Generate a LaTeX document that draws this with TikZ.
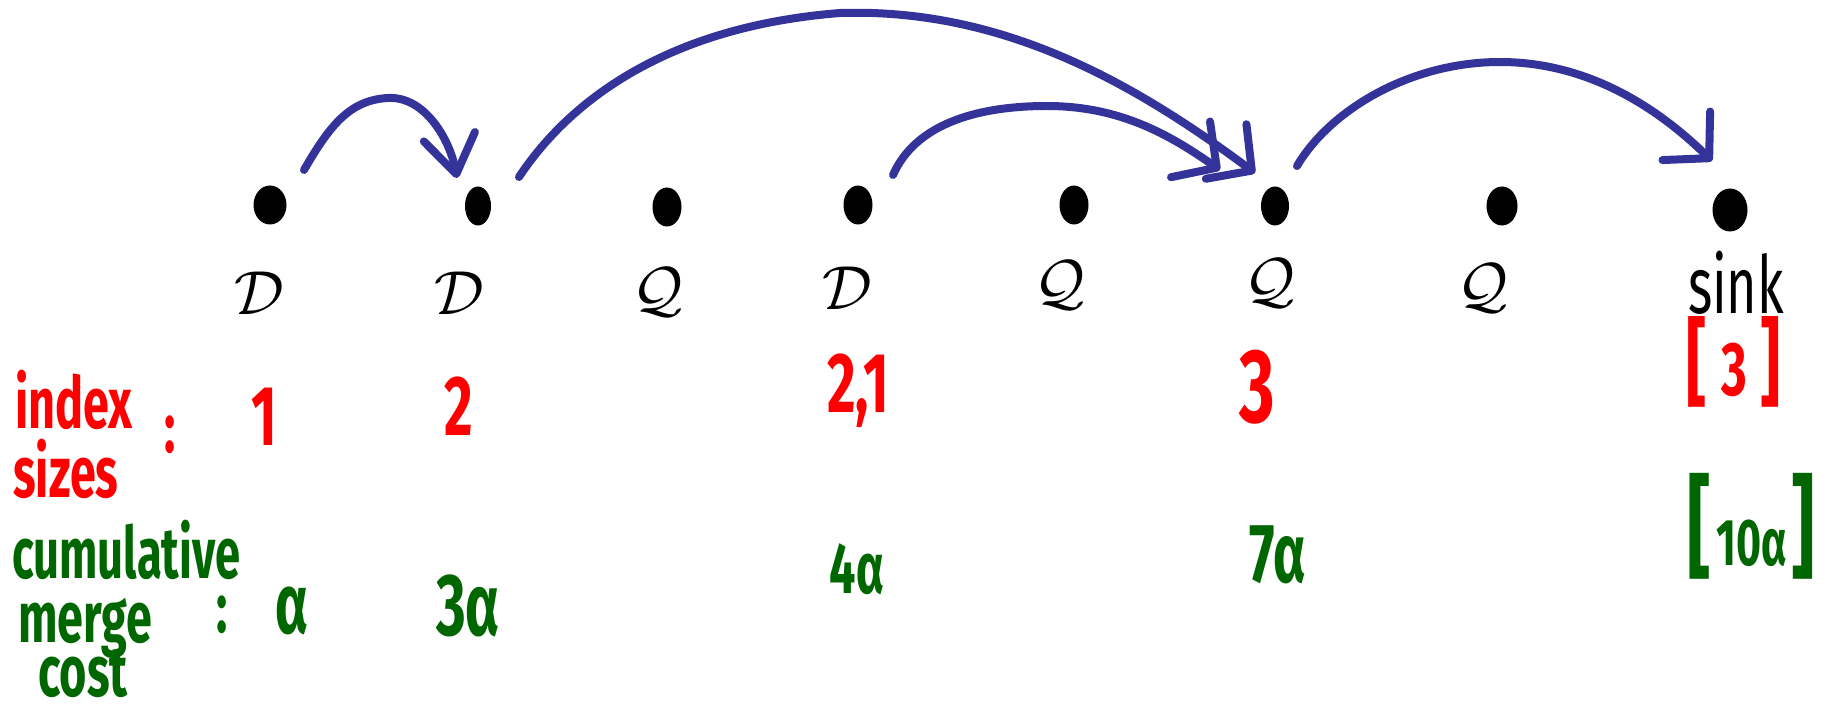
\documentclass[tikz,border=0pt]{standalone}
\usepackage{fontspec}
\usetikzlibrary{arrows.meta,shapes.geometric}
\newfontfamily\hand[FakeStretch=0.65]{Fira Sans}
\definecolor{inkblue}{RGB}{51,51,153}
\definecolor{inkred}{RGB}{255,0,0}
\definecolor{inkgreen}{RGB}{0,102,0}
\newcommand\hfs[1]{\fontsize{#1}{#1}\selectfont}
\begin{document}
\begin{tikzpicture}[x=1pt,y=-1pt,
  dot/.style={ellipse, fill=black, inner sep=0pt, minimum width=29pt, minimum height=39pt},
  kind/.style={font=\Huge, scale=2.5, inner sep=0pt},
  redlab/.style={text=inkred, inner sep=0pt},
  greenlab/.style={text=inkgreen, inner sep=0pt},
  link/.style={draw=inkblue, line width=8pt, line cap=round, line join=round},
  tipsteep/.style={-{Straight Barb[length=38pt,width=52pt,round]}},
  tipflat/.style={-{Straight Barb[length=32pt,width=68pt,round]}}]
\useasboundingbox (0,0) rectangle (1841,711);

% dots
\node[dot, minimum width=33pt] (d1) at (270,205) {};
\node[dot, minimum width=26pt] (d2) at (478,206) {};
\node[dot] (d3) at (667,207) {};
\node[dot] (d4) at (858,205) {};
\node[dot] (d5) at (1074,205) {};
\node[dot, minimum width=28pt] (d6) at (1275,206) {};
\node[dot, minimum width=31pt] (d7) at (1502,206) {};
\node[dot, minimum width=35pt, minimum height=43pt] (d8) at (1730,210) {};

% kinds
\node[kind] (k1) at (259,293) {$\mathcal{D}$};
\node[kind] (k2) at (459,293) {$\mathcal{D}$};
\node[kind] (k3) at (658,292) {$\mathcal{Q}$};
\node[kind] (k4) at (847,288) {$\mathcal{D}$};
\node[kind] (k5) at (1060,285) {$\mathcal{Q}$};
\node[kind] (k6) at (1270,283) {$\mathcal{Q}$};
\node[kind] (k7) at (1483,288) {$\mathcal{Q}$};
\node[inner sep=0pt, anchor=base, font={\hand\hfs{80}}] (k8) at (1736,313) {sink};

% index sizes row
\node[redlab, anchor=base west, font={\hand\bfseries\hfs{72}}] (is1) at (15,428) {index};
\node[redlab, anchor=base west, font={\hand\bfseries\hfs{72}}] (is2) at (13,497) {sizes};
\node[redlab, anchor=base, font={\hand\bfseries\hfs{72}}] (isc) at (170,452) {:};
\node[redlab, anchor=base, font={\hand\bfseries\hfs{85}}] (r1) at (264,445) {1};
\node[redlab, anchor=base, font={\hand\bfseries\hfs{85}}] (r2) at (459,435) {2};
\node[redlab, anchor=base, font={\hand\bfseries\hfs{85}}] (r4) at (858,412) {2,1};
\node[redlab, anchor=base, font={\hand\bfseries\hfs{105}}] (r6) at (1257,422) {3};
\node[redlab, anchor=base, font={\hand\bfseries\hfs{76}}] (r8) at (1734,395)
  {{\hfs{96}[}\hspace{14pt}3\hspace{14pt}{\hfs{96}]}};

% cumulative merge cost row
\node[greenlab, anchor=base west, font={\hand\bfseries\hfs{72}}, xscale=0.97] (mc1) at (12,578) {cumulative};
\node[greenlab, anchor=base west, font={\hand\bfseries\hfs{72}}] (mc2) at (18,642) {merge};
\node[greenlab, anchor=base west, font={\hand\bfseries\hfs{72}}] (mc3) at (38,696) {cost};
\node[greenlab, anchor=base, font={\hand\bfseries\hfs{72}}] (mcc) at (222,632) {:};
\node[greenlab, anchor=base, font={\hand\bfseries\hfs{85}}] (g1) at (292,633) {α};
\node[greenlab, anchor=base, font={\hand\bfseries\hfs{88}}] (g2) at (468,635) {3α};
\node[greenlab, anchor=base, font={\hand\bfseries\hfs{72}}] (g4) at (857,593) {4α};
\node[greenlab, anchor=base, font={\hand\bfseries\hfs{84}}] (g6) at (1278,582) {7α};
\node[greenlab, anchor=base, font={\hand\bfseries\hfs{66}}] (g8) at (1751,565)
  {{\hfs{112}[}\hspace{6pt}10α\hspace{4pt}{\hfs{112}]}};

% connector end points
\coordinate (a1s) at (304,170);
\coordinate (a1e) at (457,178);
\coordinate (a2s) at (519,177);
\coordinate (a2e) at (1255,173);
\coordinate (a3s) at (893,175);
\coordinate (a3e) at (1220,170);
\coordinate (a4s) at (1297,166);
\coordinate (a4e) at (1712,161);

% connectors
\draw[link, tipsteep] (a1s) .. controls (330,125) and (350,100) .. (388,98)
      .. controls (425,96) and (450,140) .. (a1e);
\draw[link, tipflat] (a2s) .. controls (560,115) and (650,28) .. (840,13)
      .. controls (1000,8) and (1130,80) .. (a2e);
\draw[link, tipflat] (a3s) .. controls (915,125) and (975,106) .. (1047,106)
      .. controls (1120,106) and (1170,135) .. (a3e);
\draw[link, tipflat] (a4s) .. controls (1330,110) and (1410,62) .. (1500,62)
      .. controls (1590,62) and (1660,110) .. (a4e);
\end{tikzpicture}
\end{document}
